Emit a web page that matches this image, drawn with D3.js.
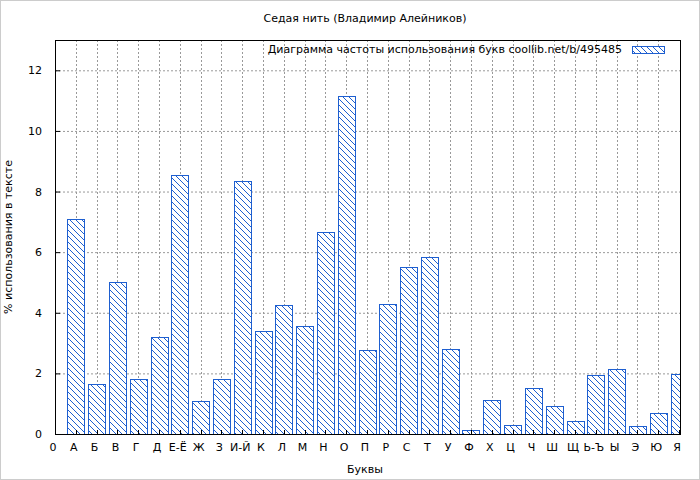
<!DOCTYPE html>
<html><head><meta charset="utf-8">
<script src="https://cdn.jsdelivr.net/npm/d3@7"></script>
<style>body{margin:0;background:#fff}text{font-family:"DejaVu Sans",sans-serif;font-size:11px;fill:#000}</style>
</head><body><svg id="c" width="700" height="480"></svg>
<script>
const letters=["А","Б","В","Г","Д","Е-Ё","Ж","З","И-Й","К","Л","М","Н","О","П","Р","С","Т","У","Ф","Х","Ц","Ч","Ш","Щ","Ь-Ъ","Ы","Э","Ю","Я"];
const values=[7.09,1.65,5.01,1.81,3.2,8.54,1.09,1.81,8.34,3.4,4.25,3.56,6.66,11.14,2.77,4.29,5.51,5.84,2.8,0.13,1.12,0.3,1.52,0.92,0.43,1.95,2.14,0.26,0.69,1.98];
const xTickLabels=["0"].concat(letters);
const yTicks=[0,2,4,6,8,10,12];
const svg=d3.select("#c");
const L=55,R=680,T=40,B=434;
const x=d3.scaleLinear().domain([0,30]).range([L,R-1]);
const y=d3.scaleLinear().domain([0,13]).range([B,T]);
const defs=svg.append("defs");
const p=defs.append("pattern").attr("id","h").attr("patternUnits","userSpaceOnUse").attr("width",6).attr("height",6);
p.append("rect").attr("width",6).attr("height",6).attr("fill","#fff");
p.append("path").attr("d","M-1,-1L7,7M-1,5L1,7M5,-1L7,1").attr("stroke","#1e5fd0").attr("stroke-width",1);
defs.append("clipPath").attr("id","cp").append("rect").attr("x",L).attr("y",T).attr("width",R-L).attr("height",B-T);
svg.append("rect").attr("x",0.5).attr("y",0.5).attr("width",699).attr("height",479).attr("fill","none").attr("stroke","#ccc");
const g=svg.append("g");
// grid
g.selectAll(".gy").data(yTicks.slice(1)).join("line").attr("x1",L).attr("x2",R).attr("y1",d=>y(d)+.5).attr("y2",d=>y(d)+.5).attr("stroke","#999").attr("stroke-dasharray","2,2");
g.selectAll(".gx").data(d3.range(1,30)).join("line").attr("y1",T).attr("y2",B).attr("x1",d=>Math.round(x(d))+.5).attr("x2",d=>Math.round(x(d))+.5).attr("stroke","#999").attr("stroke-dasharray","2,2");
// bars
g.append("g").attr("clip-path","url(#cp)").selectAll("rect").data(values).join("rect")
 .attr("x",(d,i)=>Math.round(x(i+1)-8.5)+.5).attr("width",17).attr("y",d=>Math.round(y(d))+.5).attr("height",d=>B-Math.round(y(d)))
 .attr("fill","url(#h)").attr("stroke","#1e5fd0");
svg.append("rect").attr("x",L+.5).attr("y",T+.5).attr("width",R-L).attr("height",B-T).attr("fill","none").attr("stroke","#000");
// axes
g.selectAll(".yt").data(yTicks).join("text").attr("x",L-13).attr("y",d=>y(d)+4).attr("text-anchor","end").text(d=>d);
g.selectAll(".ytk").data(yTicks).join("line").attr("x1",L).attr("x2",L+5).attr("y1",d=>y(d)+.5).attr("y2",d=>y(d)+.5).attr("stroke","#000");
g.selectAll(".xtk").data(d3.range(0,31)).join("line").attr("y1",B).attr("y2",B-4).attr("x1",d=>Math.round(x(d))+.5).attr("x2",d=>Math.round(x(d))+.5).attr("stroke","#000");
g.selectAll(".xt").data(xTickLabels).join("text").attr("x",(d,i)=>x(i)-2).attr("y",B+17).attr("text-anchor","middle").text(d=>d);
svg.append("text").attr("x",365).attr("y",22).attr("text-anchor","middle").text("Седая нить (Владимир Алейников)");
svg.append("text").attr("x",365).attr("y",473).attr("text-anchor","middle").text("Буквы");
svg.append("text").attr("transform","translate(12,237) rotate(-90)").attr("text-anchor","middle").text("% использования в тексте");
svg.append("text").attr("x",622).attr("y",53).attr("text-anchor","end").text("Диаграмма частоты использования букв  coollib.net/b/495485");
svg.append("rect").attr("x",632.5).attr("y",46.5).attr("width",32).attr("height",7).attr("fill","url(#h)").attr("stroke","#1e5fd0");
</script></body></html>
